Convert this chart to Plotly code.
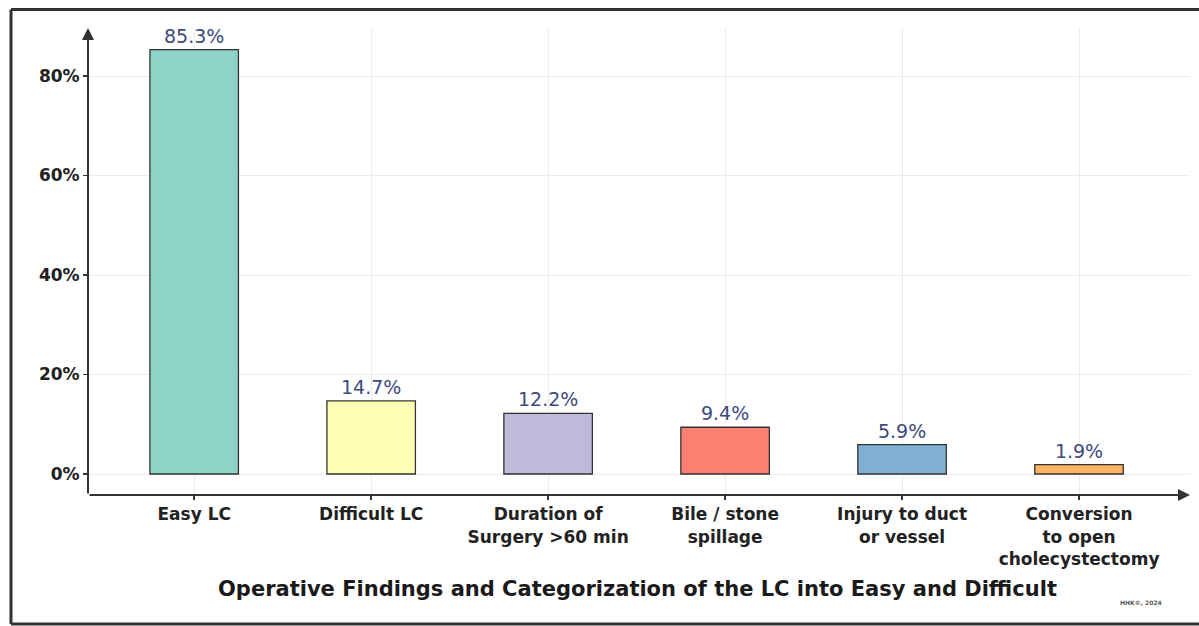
import plotly.graph_objects as go

categories = ["Easy LC", "Difficult LC", "Duration of<br>Surgery >60 min", "Bile / stone<br>spillage",
              "Injury to duct<br>or vessel", "Conversion<br>to open<br>cholecystectomy"]
values = [85.3, 14.7, 12.2, 9.4, 5.9, 1.9]
colors = ["#8DD3C7", "#FFFFB3", "#BEBADA", "#FB8072", "#80B1D3", "#FDB462"]
y_ticks = [0, 20, 40, 60, 80]
y_tick_labels = ["0%", "20%", "40%", "60%", "80%"]

W, H = 1199, 626
ml, mr, mt, mb = 88, 9, 28, H - 495
pw = W - ml - mr
ph = H - mt - mb

xr = [-0.6, 5.627]
yr = [-4.22, 89.65]

FONT = "DejaVu Sans, Verdana, sans-serif"

fig = go.Figure()
fig.add_trace(go.Bar(
    x=list(range(len(categories))), y=values,
    marker=dict(color=colors, line=dict(color="#333333", width=1.3)),
    width=0.5,
    text=[f"{v}%" for v in values], textposition="outside",
    textfont=dict(family=FONT, size=19, color="#3e4a7c"),
    cliponaxis=False, hoverinfo="skip",
))

axis_col = "#333333"
fig.update_layout(
    width=W, height=H,
    margin=dict(l=ml, r=mr, t=mt, b=mb),
    paper_bgcolor="white", plot_bgcolor="white",
    showlegend=False, hovermode=False,
    font=dict(family=FONT, color="#222222"),
    xaxis=dict(range=xr, tickmode="array", tickvals=list(range(len(categories))),
               ticktext=[f"<b>{c}</b>" for c in categories],
               tickfont=dict(size=17, color="#222222"),
               showgrid=True, gridcolor="#ebebeb", gridwidth=1,
               ticks="outside", ticklen=4, tickcolor=axis_col, tickwidth=1.5,
               showline=False, zeroline=False, fixedrange=True),
    yaxis=dict(range=yr, tickmode="array", tickvals=y_ticks,
               ticktext=[f"<b>{t}</b>" for t in y_tick_labels],
               tickfont=dict(size=17, color="#222222"),
               showgrid=True, gridcolor="#ebebeb", gridwidth=1,
               ticks="outside", ticklen=4, tickcolor=axis_col, tickwidth=1.5,
               showline=False, zeroline=False, fixedrange=True),
)

# axis lines with arrows
fig.add_annotation(x=xr[1], y=yr[0], ax=xr[0], ay=yr[0], xref="x", yref="y", axref="x", ayref="y",
                   showarrow=True, arrowhead=2, arrowsize=1.2, arrowwidth=2, arrowcolor=axis_col, text="")
fig.add_annotation(x=xr[0], y=yr[1], ax=xr[0], ay=yr[0], xref="x", yref="y", axref="x", ayref="y",
                   showarrow=True, arrowhead=2, arrowsize=1.2, arrowwidth=2, arrowcolor=axis_col, text="")

def px_x(px):
    return (px - ml) / pw

def px_y(py):
    return (H - mb - py) / ph

# title
fig.add_annotation(x=px_x(637), y=px_y(589), xref="paper", yref="paper",
                   text="<b>Operative Findings and Categorization of the LC into Easy and Difficult</b>",
                   showarrow=False, font=dict(size=21, color="#1a1a1a"), xanchor="center", yanchor="middle")
# watermark
fig.add_annotation(x=px_x(1141), y=px_y(602), xref="paper", yref="paper",
                   text="<b>HHK©, 2024</b>", showarrow=False, font=dict(size=6, color="#555555"),
                   xanchor="center", yanchor="middle")

# frame (top, left, bottom; the right side runs off the picture)
frame = dict(color="#333333", width=3)
fx0, fx1 = px_x(11), px_x(1240)
fy0, fy1 = px_y(624), px_y(9.5)
for (a, b, c, d) in [(fx0, fy1, fx1, fy1), (fx0, fy0, fx0, fy1), (fx0, fy0, fx1, fy0)]:
    fig.add_shape(type="line", xref="paper", yref="paper", x0=a, y0=b, x1=c, y1=d,
                  line=frame, layer="above")

fig.write_html("out.html", config={"displayModeBar": False, "staticPlot": True},
               post_script="document.body.style.margin='0';document.body.style.overflow='hidden';")
